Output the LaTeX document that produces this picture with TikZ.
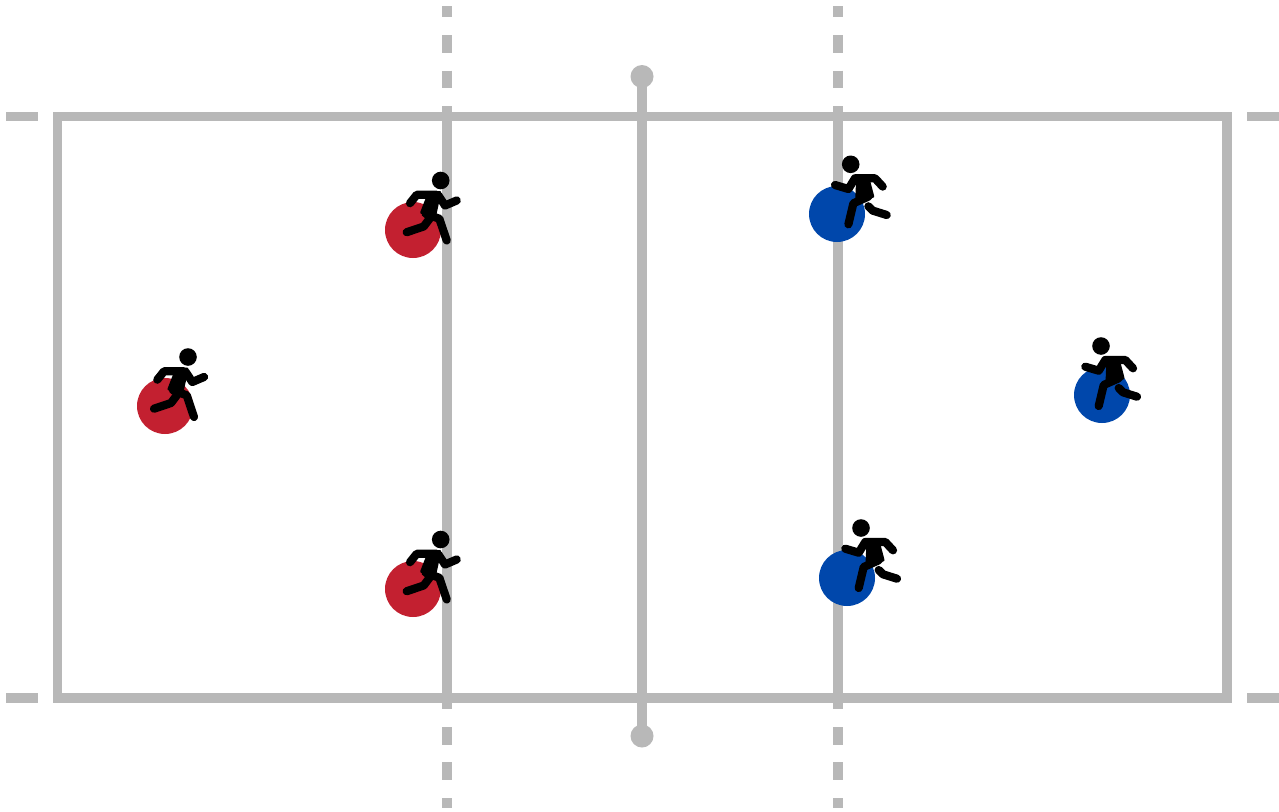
\documentclass[tikz,border=0pt]{standalone}
\definecolor{courtgrey}{HTML}{B8B8B8}
\definecolor{teamred}{HTML}{C32030}
\definecolor{teamblue}{HTML}{0047AB}
\tikzset{
  court/.style={draw=courtgrey,line width=9.2pt,line join=miter},
  courtdash/.style={draw=courtgrey,line width=9.2pt},
  post/.style={circle,fill=courtgrey,inner sep=0pt,minimum size=23pt},
  player/.style={circle,inner sep=0pt,minimum size=56pt},
  limb/.style={draw=black,line width=8.2pt,line cap=round,line join=round},
  trunk/.style={fill=black,draw=black,line width=3pt,line join=round},
  pics/runred/.style={code={
    \fill[black] (0,0) circle (8.8);
    \draw[limb] (-30.7,22.7) -- (-24,14.3) -- (-4,14.3);
    \draw[trunk] (-12,14) -- (-1,12) -- (-6,35) -- (-19,32) -- cycle;
    \draw[limb] (-2.3,15) -- (4.3,25) -- (16,20);
    \draw[limb] (-15,33.3) -- (-1.3,38.3) -- (6,60);
    \draw[limb] (-11,38) -- (-17,46) -- (-34,51.7);
  }},
  pics/runblue/.style={code={
    \fill[black] (0,0) circle (8.8);
    \draw[limb] (-15.7,20.7) -- (-2.3,24.7) -- (4.3,14) -- (24.3,14) -- (32,22.3);
    \draw[trunk] (7,13) -- (17,13) -- (22,32) -- (6,36) -- cycle;
    \draw[limb] (17.7,32.3) -- (2.7,39) -- (-2.3,60);
    \draw[limb] (17.7,42) -- (22,46.3) -- (36,50.7);
  }}
}
\begin{document}
\begin{tikzpicture}[x=1pt,y=-1pt]
\useasboundingbox (0,0) rectangle (1279,811);
\fill[white] (0,0) rectangle (1279,811);
% court outline
\draw[court] (57.5,116.5) rectangle (1227,698);
% side dashes
\foreach \y in {116.5,698}{
  \draw[courtdash] (6,\y) -- (38,\y);
  \draw[courtdash] (1247,\y) -- (1279,\y);
}
% attack lines
\foreach \x in {447,838}{
  \draw[court] (\x,106) -- (\x,709);
  \foreach \a/\b in {6/17,35/52.5,70.5/88,727/745,762/780,798/808}{
    \draw[courtdash] (\x,\a) -- (\x,\b);
  }
}
% net
\node[post] (nettop) at (642,76.5) {};
\node[post] (netbottom) at (642,736) {};
\draw[court,shorten <=-4pt,shorten >=-4pt] (nettop) -- (netbottom);
% players
\node[player,fill=teamred] (r1) at (413,230) {};
\node[player,fill=teamred] (r2) at (165,406) {};
\node[player,fill=teamred] (r3) at (413,589) {};
\node[player,fill=teamblue] (b1) at (837,214) {};
\node[player,fill=teamblue] (b2) at (1102,395) {};
\node[player,fill=teamblue] (b3) at (847,578) {};
% runners
\pic at (440.7,180.5) {runred};
\pic at (188,357) {runred};
\pic at (440.7,539.5) {runred};
\pic at (850.7,164.3) {runblue};
\pic at (1101,346) {runblue};
\pic at (861,528) {runblue};
\end{tikzpicture}
\end{document}
